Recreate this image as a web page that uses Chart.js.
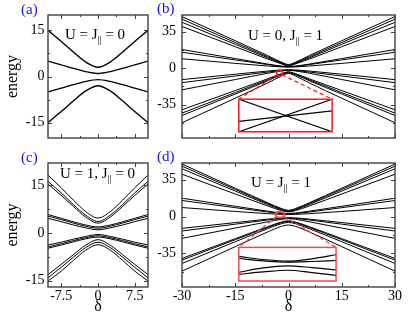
<!DOCTYPE html>
<html>
<head>
<meta charset="utf-8">
<script src="https://cdn.jsdelivr.net/npm/chart.js@4.4.1/dist/chart.umd.min.js"></script>
<style>
  html, body { margin: 0; padding: 0; background: #fff; }
  #fig { position: relative; width: 411px; height: 320px; overflow: hidden; }
  #fig canvas { position: absolute; left: 0; top: 0; }
</style>
</head>
<body>
<div id="fig">
  <canvas id="panelA" width="411" height="320"></canvas>
  <canvas id="panelB" width="411" height="320"></canvas>
  <canvas id="panelC" width="411" height="320"></canvas>
  <canvas id="panelD" width="411" height="320"></canvas>
  <canvas id="insetB" width="411" height="320"></canvas>
  <canvas id="insetD" width="411" height="320"></canvas>
</div>
<script>
// delta values the levels were read at
var deltaNarrow = [-10.2, -7.5, -5, -2.5, 0, 2.5, 5, 7.5, 10.2];
var deltaWide = [-30, -15, -6, -2, 0, 2, 6, 15, 30];

// (a) U = J|| = 0
var energyA = [
  [15, 11.4, 7.9, 4.7, 3, 4.7, 7.9, 11.4, 15],
  [5, 3.8, 2.65, 1.6, 1, 1.6, 2.65, 3.8, 5],
  [-5, -3.8, -2.65, -1.6, -1, -1.6, -2.65, -3.8, -5],
  [-15, -11.4, -7.9, -4.7, -3, -4.7, -7.9, -11.4, -15]
];

// (b) U = 0, J|| = 1
var energyB = [
  [49.5, 26.3, 12.3, 5.8, 3.5, 5.8, 12.3, 26.3, 49.5],
  [47, 24.6, 11.1, 5.2, 3, 5.2, 11.1, 24.6, 47],
  [44, 22.9, 10.1, 4.7, 2.5, 4.7, 10.1, 22.9, 44],
  [40, 20.6, 8.9, 4.1, 2, 4.1, 8.9, 20.6, 40],
  [17.9, 9.2, 4, 2, 1.5, 2, 4, 9.2, 17.9],
  [15.3, 7.9, 3.5, 1.7, 1.3, 1.7, 3.5, 7.9, 15.3],
  [9, 4.6, 2.1, 1.2, 1, 1.2, 2.1, 4.6, 9],
  [-11, -5.8, -2.8, -1.7, -1.5, -1.7, -2.8, -5.8, -11],
  [-13.9, -7.5, -3.8, -2.3, -2, -2.3, -3.8, -7.5, -13.9],
  [-20.8, -10.9, -5, -2.7, -2, -2.7, -5, -10.9, -20.8],
  [-39.9, -21.5, -10.4, -5.3, -3.5, -5.3, -10.4, -21.5, -39.9],
  [-43.1, -23.4, -11.4, -5.8, -4, -5.8, -11.4, -23.4, -43.1],
  [-45.4, -24.8, -12.3, -6.4, -4.5, -6.4, -12.3, -24.8, -45.4],
  [-52.4, -28.8, -14.4, -7.6, -5, -7.6, -14.4, -28.8, -52.4]
];

// (c) U = 1, J|| = 0
var energyC = [
  [18.2, 14.2, 10.3, 6.7, 4.7, 6.7, 10.3, 14.2, 18.2],
  [16.2, 12.6, 8.9, 5.6, 3.6, 5.6, 8.9, 12.6, 16.2],
  [15.4, 11.8, 8.3, 5, 3.1, 5, 8.3, 11.8, 15.4],
  [5.8, 4.6, 3.5, 2.5, 1.9, 2.5, 3.5, 4.6, 5.8],
  [5.3, 4.2, 3.1, 2.1, 1.5, 2.1, 3.1, 4.2, 5.3],
  [4.6, 3.55, 2.5, 1.6, 1, 1.6, 2.5, 3.55, 4.6],
  [-3.8, -2.9, -1.95, -1.1, -0.5, -1.1, -1.95, -2.9, -3.8],
  [-4.4, -3.4, -2.4, -1.5, -0.9, -1.5, -2.4, -3.4, -4.4],
  [-4.8, -3.8, -2.8, -1.85, -1.3, -1.85, -2.8, -3.8, -4.8],
  [-13.1, -9.9, -6.8, -3.85, -2.1, -3.85, -6.8, -9.9, -13.1],
  [-14.1, -10.8, -7.6, -4.6, -2.9, -4.6, -7.6, -10.8, -14.1],
  [-15.1, -12, -8.6, -5.4, -3.7, -5.4, -8.6, -12, -15.1]
];

// (d) U = J|| = 1
var energyD = [
  [50, 27, 13.4, 7.7, 6, 7.7, 13.4, 27, 50],
  [48, 25.8, 12.6, 7.1, 5.5, 7.1, 12.6, 25.8, 48],
  [45.5, 24.3, 11.7, 6.5, 5, 6.5, 11.7, 24.3, 45.5],
  [40.3, 21.5, 10.3, 5.7, 4.5, 5.7, 10.3, 21.5, 40.3],
  [17.5, 9.8, 5.25, 3.4, 3, 3.4, 5.25, 9.8, 17.5],
  [15.3, 8.5, 4.4, 2.9, 2.5, 2.9, 4.4, 8.5, 15.3],
  [8.6, 4.9, 2.8, 2.1, 2, 2.1, 2.8, 4.9, 8.6],
  [-11.2, -5.7, -2.45, -1.25, -1, -1.25, -2.45, -5.7, -11.2],
  [-13.7, -7.2, -3.3, -1.8, -1.5, -1.8, -3.3, -7.2, -13.7],
  [-20.7, -10.9, -5.05, -2.6, -2, -2.6, -5.05, -10.9, -20.7],
  [-39.8, -21, -9.8, -5.2, -4, -5.2, -9.8, -21, -39.8],
  [-41.4, -22, -10.5, -5.8, -4.5, -5.8, -10.5, -22, -41.4],
  [-44.6, -23.9, -11.7, -6.8, -5.5, -6.8, -11.7, -23.9, -44.6],
  [-51.9, -28.6, -14.8, -9.3, -8, -9.3, -14.8, -28.6, -51.9]
];

// zoomed-in windows
var insetDeltaB = [-3, -2];
var insetEnergyB = [
  [-3.4, -4.6],
  [-4.6, -3.4],
  [-4.22, -3.83]
];
var insetDeltaD = [-3.5, -2.875, -2.25, -1.625, -1];
var insetEnergyD = [
  [2.23, 2.14, 2.09, 2.16, 2.28],
  [2.17, 2.1, 2.06, 2.08, 2.11],
  [1.76, 1.89, 1.95, 1.9, 1.83],
  [1.7, 1.77, 1.82, 1.75, 1.67]
];

// tick labels
var xTicksNarrow = [-7.5, 0, 7.5];
var xTicksWide = [-30, -15, 0, 15, 30];
var yTicksNarrow = [-15, 0, 15];
var yTicksWide = [-35, 0, 35];

var W = 411, H = 320;
var serif = "'Liberation Serif', 'Times New Roman', serif";
Chart.defaults.font.family = serif;
Chart.defaults.color = '#000';

function lineSets(xs, rows, width) {
  return rows.map(function (r) {
    return {
      data: r.map(function (v, i) { return { x: xs[i], y: v }; }),
      borderColor: '#000',
      borderWidth: width,
      pointRadius: 0,
      fill: false,
      cubicInterpolationMode: 'monotone'
    };
  });
}

function withMinor(major, scale) {
  var half = (major[1] - major[0]) / 2;
  var out = major.map(function (v) { return { v: v, major: true }; });
  for (var v = major[0] - half; v <= major[major.length - 1] + half; v += 2 * half) {
    out.push({ v: v, major: false });
  }
  return out.filter(function (t) { return t.v >= scale.min && t.v <= scale.max; });
}

function seg(ctx, x0, y0, x1, y1) {
  ctx.beginPath();
  ctx.moveTo(x0, y0);
  ctx.lineTo(x1, y1);
  ctx.stroke();
}

// box round the plot with inward ticks on all four sides
function framePlugin(xMajor, yMajor) {
  return {
    id: 'frame',
    afterDatasetsDraw: function (chart) {
      var ctx = chart.ctx, a = chart.chartArea;
      var sx = chart.scales.x, sy = chart.scales.y;
      ctx.save();
      ctx.strokeStyle = '#404040';
      ctx.lineWidth = 1;
      withMinor(xMajor, sx).forEach(function (t) {
        var p = Math.round(sx.getPixelForValue(t.v)) + 0.5, len = t.major ? 4 : 2;
        seg(ctx, p, a.bottom, p, a.bottom - len);
        seg(ctx, p, a.top, p, a.top + len);
      });
      withMinor(yMajor, sy).forEach(function (t) {
        var p = Math.round(sy.getPixelForValue(t.v)) + 0.5, len = t.major ? 4 : 2;
        seg(ctx, a.left, p, a.left + len, p);
        seg(ctx, a.right, p, a.right - len, p);
      });
      ctx.lineWidth = 1.4;
      ctx.strokeRect(a.left, a.top, a.right - a.left, a.bottom - a.top);
      ctx.restore();
    }
  };
}

// panel letter and the parameter note, J with a small || under it
function notesPlugin(n) {
  return {
    id: 'notes',
    afterDraw: function (chart) {
      var ctx = chart.ctx;
      ctx.save();
      ctx.textBaseline = 'alphabetic';
      ctx.fillStyle = '#1414e6';
      ctx.font = '15px ' + serif;
      ctx.fillText(n.tag, n.tagAt[0], n.tagAt[1]);
      ctx.fillStyle = '#000';
      var x = n.textAt[0], y = n.textAt[1];
      n.parts.forEach(function (part, i) {
        var sub = i % 2 === 1;
        ctx.font = (sub ? '10px ' : '15px ') + serif;
        ctx.fillText(part, x, sub ? y + 4 : y);
        x += ctx.measureText(part).width;
      });
      ctx.restore();
    }
  };
}

// red ring round the zoomed spot, dashed lines out to the inset
function magnifierPlugin(m) {
  return {
    id: 'magnifier',
    afterDatasetsDraw: function (chart) {
      if (!m) return;
      var ctx = chart.ctx, sx = chart.scales.x, sy = chart.scales.y;
      var cx = sx.getPixelForValue(m.at[0]), cy = sy.getPixelForValue(m.at[1]);
      var bl = sx.getPixelForValue(m.box[0]), br = sx.getPixelForValue(m.box[1]);
      var bt = sy.getPixelForValue(m.box[2]);
      ctx.save();
      ctx.strokeStyle = m.color;
      ctx.lineWidth = 1.3;
      ctx.setLineDash([4, 3]);
      seg(ctx, cx - m.rx * 0.8, cy + m.ry * 0.6, bl, bt);
      seg(ctx, cx + m.rx * 0.8, cy + m.ry * 0.6, br, bt);
      ctx.setLineDash([]);
      ctx.lineWidth = m.ring;
      ctx.beginPath();
      ctx.ellipse(cx, cy, m.rx, m.ry, 0, 0, 2 * Math.PI);
      ctx.stroke();
      ctx.restore();
    }
  };
}

function panel(id, o) {
  var a = o.area; // left, top, right, bottom on the page
  return new Chart(document.getElementById(id), {
    type: 'line',
    data: { datasets: lineSets(o.delta, o.rows, o.width) },
    options: {
      responsive: false,
      animation: false,
      events: [],
      layout: {
        padding: { left: o.padLeft, top: a[1], right: W - a[2], bottom: H - a[3] - o.xHeight }
      },
      plugins: {
        legend: { display: false },
        tooltip: { enabled: false }
      },
      scales: {
        x: {
          type: 'linear',
          min: o.xRange[0],
          max: o.xRange[1],
          afterBuildTicks: function (s) { s.ticks = o.xTicks.map(function (v) { return { value: v }; }); },
          afterFit: function (s) { s.height = o.xHeight; },
          grid: { display: false, drawTicks: false },
          border: { display: false },
          ticks: {
            display: o.xLabels,
            padding: 1,
            autoSkip: false,
            maxRotation: 0,
            font: { size: 14 },
            callback: function (v) { return String(v); }
          },
          title: { display: o.xLabels, text: 'δ', font: { size: 16 }, padding: 0 }
        },
        y: {
          min: o.yRange[0],
          max: o.yRange[1],
          afterBuildTicks: function (s) { s.ticks = o.yTicks.map(function (v) { return { value: v }; }); },
          afterFit: function (s) { s.width = a[0] - o.padLeft; },
          grid: { display: false, drawTicks: false },
          border: { display: false },
          ticks: {
            padding: o.yPad,
            autoSkip: false,
            font: { size: 14 },
            callback: function (v) { return String(v); }
          },
          title: { display: o.yTitle, text: 'energy', font: { size: 16 }, padding: 0 }
        }
      }
    },
    plugins: [framePlugin(o.xTicks, o.yTicks), notesPlugin(o.note), magnifierPlugin(o.zoom)]
  });
}

function inset(id, host, m, xs, rows, xRange, yRange) {
  var sx = host.scales.x, sy = host.scales.y;
  var l = sx.getPixelForValue(m.box[0]), r = sx.getPixelForValue(m.box[1]);
  var t = sy.getPixelForValue(m.box[2]), b = sy.getPixelForValue(m.box[3]);
  return new Chart(document.getElementById(id), {
    type: 'line',
    data: { datasets: lineSets(xs, rows, 1.2) },
    options: {
      responsive: false,
      animation: false,
      events: [],
      layout: { padding: { left: l, top: t, right: W - r, bottom: H - b } },
      plugins: { legend: { display: false }, tooltip: { enabled: false } },
      scales: {
        x: { type: 'linear', display: false, min: xRange[0], max: xRange[1] },
        y: { display: false, min: yRange[0], max: yRange[1] }
      }
    },
    plugins: [{
      id: 'insetBox',
      beforeDatasetsDraw: function (chart) {
        var a = chart.chartArea;
        chart.ctx.save();
        chart.ctx.fillStyle = '#fff';
        chart.ctx.fillRect(a.left, a.top, a.right - a.left, a.bottom - a.top);
        chart.ctx.restore();
      },
      afterDraw: function (chart) {
        var a = chart.chartArea, ctx = chart.ctx;
        ctx.save();
        ctx.strokeStyle = m.color;
        ctx.lineWidth = 1.5;
        ctx.strokeRect(a.left, a.top, a.right - a.left, a.bottom - a.top);
        ctx.restore();
      }
    }]
  });
}

var zoomB = { at: [-2.5, -4.6], box: [-14, 12.3, -29.8, -61], rx: 3, ry: 3, ring: 1.5, color: '#ff1a1a' };
var zoomD = { at: [-2.4, 1.9], box: [-14, 13.4, -29.3, -61.3], rx: 4.5, ry: 3, ring: 2, color: '#f24b4b' };

panel('panelA', {
  area: [48, 15, 148, 138], padLeft: 3, xHeight: 0, yPad: 3.5,
  delta: deltaNarrow, rows: energyA, width: 1.4,
  xRange: [-10.2, 10.2], yRange: [-20, 20],
  xTicks: xTicksNarrow, yTicks: yTicksNarrow, xLabels: false, yTitle: true,
  note: { tag: '(a)', tagAt: [21, 14], parts: ['U = J', '||', ' = 0'], textAt: [65, 38.5] },
  zoom: null
});

var chartB = panel('panelB', {
  area: [182, 15, 395, 138], padLeft: 150, xHeight: 0, yPad: 6,
  delta: deltaWide, rows: energyB, width: 1,
  xRange: [-30, 30], yRange: [-67, 51],
  xTicks: xTicksWide, yTicks: yTicksWide, xLabels: false, yTitle: false,
  note: { tag: '(b)', tagAt: [157, 13], parts: ['U = 0, J', '||', ' = 1'], textAt: [248, 39.5] },
  zoom: zoomB
});

panel('panelC', {
  area: [48, 163, 148, 287], padLeft: 3, xHeight: 29, yPad: 3.5,
  delta: deltaNarrow, rows: energyC, width: 1,
  xRange: [-10.2, 10.2], yRange: [-17, 22],
  xTicks: xTicksNarrow, yTicks: yTicksNarrow, xLabels: true, yTitle: true,
  note: { tag: '(c)', tagAt: [21, 162], parts: ['U = 1, J', '||', ' = 0'], textAt: [60, 177.5] },
  zoom: null
});

var chartD = panel('panelD', {
  area: [182, 163, 395, 287], padLeft: 150, xHeight: 29, yPad: 6,
  delta: deltaWide, rows: energyD, width: 1,
  xRange: [-30, 30], yRange: [-67, 51],
  xTicks: xTicksWide, yTicks: yTicksWide, xLabels: true, yTitle: false,
  note: { tag: '(d)', tagAt: [157, 161], parts: ['U = J', '||', ' = 1'], textAt: [251, 186.5] },
  zoom: zoomD
});

inset('insetB', chartB, zoomB, insetDeltaB, insetEnergyB, [-3, -2], [-4.6, -3.4]);
inset('insetD', chartD, zoomD, insetDeltaD, insetEnergyD, [-3.5, -1], [1.5, 2.5]);
</script>
</body>
</html>
